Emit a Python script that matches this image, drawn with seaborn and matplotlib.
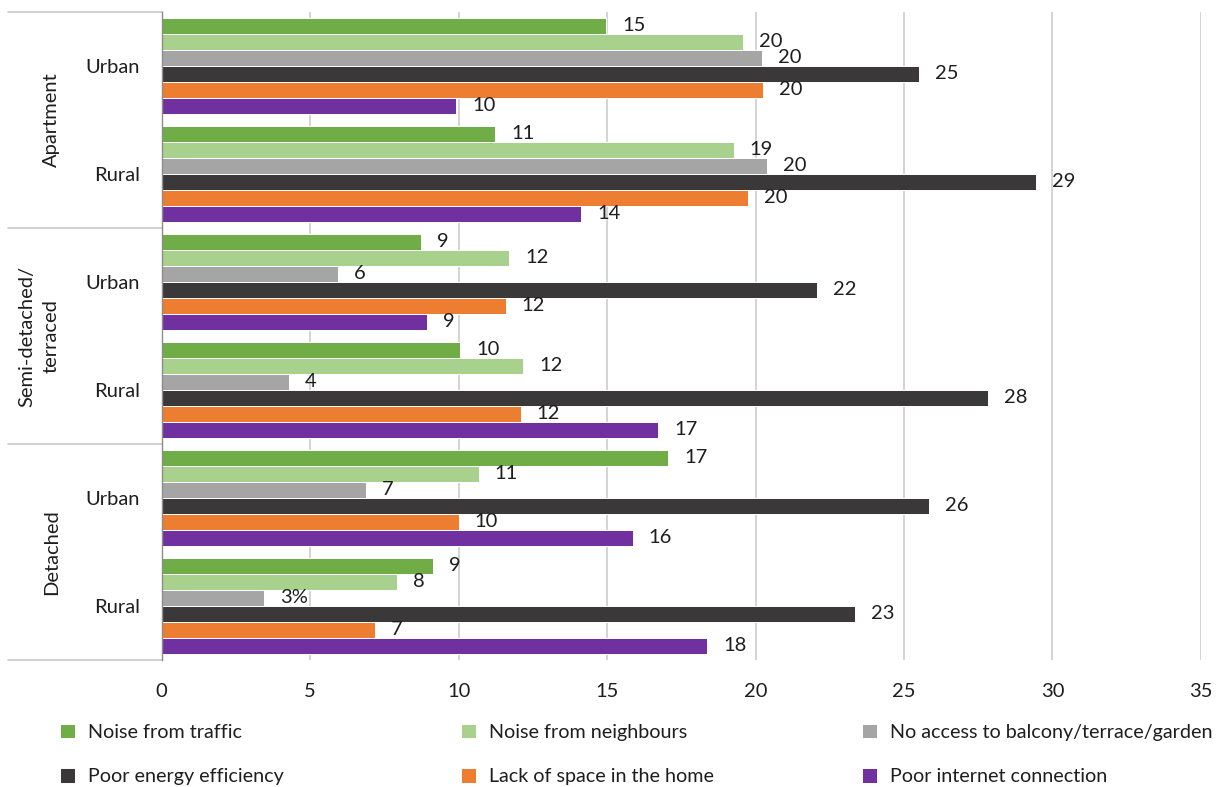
import matplotlib
matplotlib.use("Agg")
import matplotlib.pyplot as plt
from matplotlib.transforms import blended_transform_factory
import pandas as pd
import seaborn as sns

# Rows of the chart: dwelling type x settlement type
dwelling = ["Apartment", "Apartment",
            "Semi-detached/\nterraced", "Semi-detached/\nterraced",
            "Detached", "Detached"]
settlement = ["Urban", "Rural", "Urban", "Rural", "Urban", "Rural"]

# Share of respondents reporting each housing problem (%)
issues = ["Noise from traffic", "Noise from neighbours",
          "No access to balcony/terrace/garden", "Poor energy efficiency",
          "Lack of space in the home", "Poor internet connection"]
noise_traffic = [14.97, 11.23, 8.73, 10.06, 17.06, 9.14]
noise_neighbours = [19.57, 19.27, 11.71, 12.18, 10.68, 7.93]
no_outdoor_space = [20.23, 20.38, 5.95, 4.29, 6.89, 3.45]
poor_energy = [25.49, 29.45, 22.07, 27.83, 25.83, 23.36]
lack_of_space = [20.25, 19.75, 11.59, 12.09, 10.00, 7.18]
poor_internet = [9.92, 14.12, 8.93, 16.73, 15.86, 18.38]
series_values = [noise_traffic, noise_neighbours, no_outdoor_space,
                 poor_energy, lack_of_space, poor_internet]

x_ticks = [0, 5, 10, 15, 20, 25, 30, 35]
colors = ["#70AD47", "#A9D18E", "#A5A5A5", "#3A3838", "#ED7D31", "#7030A0"]

row_keys = [f"{d} | {s}" for d, s in zip(dwelling, settlement)]
df = pd.DataFrame({
    "row": [k for _ in issues for k in row_keys],
    "issue": [iss for iss in issues for _ in row_keys],
    "value": [v for vals in series_values for v in vals],
})

sns.set_style("white")
plt.rcParams["font.family"] = ["Lato", "DejaVu Sans"]
TEXT = "#1e1e1e"
FS = 14.5
LEG_FS = 14.2

fig = plt.figure(figsize=(12.2, 7.87), dpi=100)
ax = fig.add_axes([0.1325, 0.1614, 0.8519, 0.8234])

sns.barplot(data=df, x="value", y="row", hue="issue", order=row_keys,
            hue_order=issues, palette=colors, saturation=1, width=96 / 108,
            orient="h", edgecolor="white", linewidth=0.7, errorbar=None, ax=ax)

handles, labels = ax.get_legend_handles_labels()
ax.get_legend().remove()

# value labels next to each bar
for cont, vals, iss in zip(ax.containers, series_values, issues):
    texts = []
    for v, s, d in zip(vals, settlement, dwelling):
        t = f"{v:.0f}"
        if iss.startswith("No access") and d == "Detached" and s == "Rural":
            t += "%"
        texts.append(t)
    ax.bar_label(cont, labels=texts, padding=11.5, fontsize=FS, color=TEXT)

ax.set_xlim(0, 35)
ax.set_ylim(5.5, -0.5)
ax.set_xticks(x_ticks)
ax.set_xticklabels([str(t) for t in x_ticks])
ax.set_yticks(range(len(row_keys)))
ax.set_yticklabels(settlement)
ax.set_xlabel("")
ax.set_ylabel("")
ax.tick_params(axis="x", length=0, pad=16.5, labelsize=FS, labelcolor=TEXT)
ax.tick_params(axis="y", length=0, pad=15.5, labelsize=FS, labelcolor=TEXT)

ax.xaxis.grid(True, color="#C9C9C9", linewidth=1.1)
ax.set_axisbelow(True)
for side in ["top", "right", "bottom"]:
    ax.spines[side].set_visible(False)
ax.spines["left"].set_color("#8C8C8C")
ax.spines["left"].set_linewidth(1.0)

# outer category band: separators and rotated group names
trans = blended_transform_factory(ax.transAxes, ax.transData)
for yb in [-0.5, 1.5, 3.5, 5.5]:
    ax.plot([-0.148, 0], [yb, yb], transform=trans, clip_on=False,
            color="#C9C9C9", linewidth=1.2)
for gi in range(3):
    ax.text(-0.098, 2 * gi + 0.5, dwelling[2 * gi], transform=trans,
            rotation=90, ha="right", va="center", multialignment="center",
            fontsize=FS, color=TEXT, linespacing=1.5)

# legend: three columns, two rows
col_x = [60 / 1220, 461 / 1220, 862 / 1220]
for c in range(3):
    idx = [c, c + 3]
    fig.legend([handles[i] for i in idx], [labels[i] for i in idx],
               loc="center left", bbox_to_anchor=(col_x[c], 1 - 754.5 / 787),
               frameon=False, fontsize=LEG_FS, labelcolor=TEXT,
               handlelength=0.75, handleheight=0.75, handletextpad=0.65,
               labelspacing=1.38, borderpad=0, borderaxespad=0)

fig.savefig("out.png", dpi=100, facecolor="white")
